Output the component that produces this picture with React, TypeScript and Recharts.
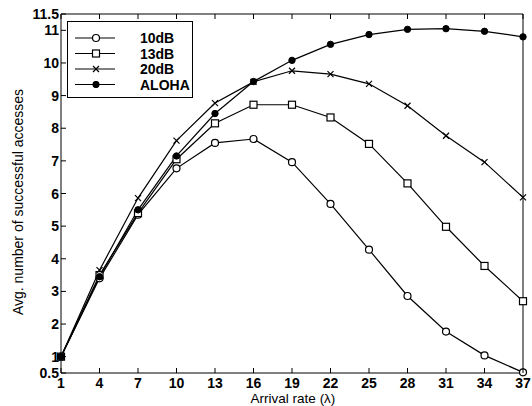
import React from 'react';
import { LineChart, Line, XAxis, YAxis } from 'recharts';

const arrivalRates = [1, 4, 7, 10, 13, 16, 19, 22, 25, 28, 31, 34, 37];
const yTicks = [0.5, 1, 2, 3, 4, 5, 6, 7, 8, 9, 10, 11, 11.5];

const snr10dB = [1.0, 3.4, 5.35, 6.77, 7.55, 7.67, 6.96, 5.68, 4.28, 2.86, 1.77, 1.04, 0.52];
const snr13dB = [1.0, 3.5, 5.4, 7.05, 8.15, 8.72, 8.72, 8.33, 7.52, 6.31, 4.98, 3.78, 2.7];
const snr20dB = [1.0, 3.65, 5.86, 7.62, 8.77, 9.42, 9.76, 9.66, 9.36, 8.69, 7.77, 6.96, 5.88];
const aloha = [1.0, 3.45, 5.5, 7.15, 8.45, 9.43, 10.08, 10.57, 10.87, 11.03, 11.05, 10.97, 10.8];

const data = arrivalRates.map((rate, i) => ({
  rate,
  snr10dB: snr10dB[i],
  snr13dB: snr13dB[i],
  snr20dB: snr20dB[i],
  aloha: aloha[i],
}));

const FONT = '"Liberation Sans", Arial, Helvetica, sans-serif';

// marker shapes
const OpenCircle = ({ cx, cy }: any) => (
  <circle cx={cx} cy={cy} r={3.5} fill="#fff" stroke="#000" strokeWidth={1.2} />
);
const OpenSquare = ({ cx, cy }: any) => (
  <rect x={cx - 3.5} y={cy - 3.5} width={7} height={7} fill="#fff" stroke="#000" strokeWidth={1.2} />
);
const Cross = ({ cx, cy }: any) => (
  <path d={`M${cx - 3},${cy - 3}L${cx + 3},${cy + 3}M${cx - 3},${cy + 3}L${cx + 3},${cy - 3}`} stroke="#000" strokeWidth={1.2} />
);
const Dot = ({ cx, cy }: any) => <circle cx={cx} cy={cy} r={3.2} fill="#000" stroke="#000" />;

const series = [
  { key: 'snr10dB', name: '10dB', Marker: OpenCircle },
  { key: 'snr13dB', name: '13dB', Marker: OpenSquare },
  { key: 'snr20dB', name: '20dB', Marker: Cross },
  { key: 'aloha', name: 'ALOHA', Marker: Dot },
];

const BottomTick = ({ x, y, payload }: any) => (
  <g>
    <line x1={x} y1={y} x2={x} y2={y - 5} stroke="#000" />
    <text x={x} y={y + 15} textAnchor="middle" fontFamily={FONT} fontSize={14} fontWeight="bold" fill="#000">
      {payload.value}
    </text>
  </g>
);
const TopTick = ({ x, y }: any) => <line x1={x} y1={y} x2={x} y2={y + 5} stroke="#000" />;
const LeftTick = ({ x, y, payload }: any) => (
  <g>
    <line x1={x} y1={y} x2={x + 5} y2={y} stroke="#000" />
    <text x={x - 2} y={y + 5} textAnchor="end" fontFamily={FONT} fontSize={14} fontWeight="bold" fill="#000">
      {payload.value}
    </text>
  </g>
);
const RightTick = ({ x, y }: any) => <line x1={x} y1={y} x2={x - 5} y2={y} stroke="#000" />;

const YTitle = () => (
  <text
    x={18}
    y={202}
    transform="rotate(-90 18 202)"
    textAnchor="middle"
    dominantBaseline="central"
    fontFamily={FONT}
    fontSize={14}
    fill="#000"
  >
    Avg. number of successful accesses
  </text>
);

const XTitle = () => (
  <text x={293} y={403} textAnchor="middle" fontFamily={FONT} fontSize={13.5} fill="#000">
    Arrival rate (λ)
  </text>
);

const LegendBox = () => (
  <div
    style={{
      position: 'absolute',
      left: 67,
      top: 21,
      width: 126,
      height: 77,
      border: '1px solid #000',
      background: '#fff',
      boxSizing: 'border-box',
    }}
  >
    <svg width={124} height={75} style={{ display: 'block' }}>
      {series.map((s, i) => {
        const ry = 16 + i * 15.5;
        return (
          <g key={s.key}>
            <line x1={7} y1={ry} x2={47} y2={ry} stroke="#000" strokeWidth={1.2} />
            <s.Marker cx={28} cy={ry} />
            <text x={72} y={ry + 5} fontFamily={FONT} fontSize={14} fontWeight="bold" fill="#000">
              {s.name}
            </text>
          </g>
        );
      })}
    </svg>
  </div>
);

const App = () => {
  return (
    <div style={{ position: 'absolute', left: 0, top: 0, width: 532, height: 406, background: '#fff' }}>
      <LineChart width={532} height={406} data={data} margin={{ top: 13, right: 8, bottom: 0, left: 0 }}>
        <XAxis
          dataKey="rate"
          type="number"
          domain={[1, 37]}
          ticks={arrivalRates}
          interval={0}
          height={33}
          tickSize={0}
          tickMargin={0}
          tickLine={false}
          axisLine={{ stroke: '#000' }}
          tick={<BottomTick />}
          label={<XTitle />}
        />
        <XAxis
          xAxisId="top"
          dataKey="rate"
          type="number"
          orientation="top"
          domain={[1, 37]}
          ticks={arrivalRates}
          interval={0}
          height={1}
          tickSize={0}
          tickMargin={0}
          tickLine={false}
          axisLine={{ stroke: '#000' }}
          tick={<TopTick />}
        />
        <YAxis
          type="number"
          domain={[0.5, 11.5]}
          ticks={yTicks}
          interval={0}
          width={61}
          tickSize={0}
          tickMargin={0}
          tickLine={false}
          axisLine={{ stroke: '#000' }}
          tick={<LeftTick />}
          label={<YTitle />}
        />
        <YAxis
          yAxisId="right"
          type="number"
          orientation="right"
          domain={[0.5, 11.5]}
          ticks={yTicks}
          interval={0}
          width={1}
          tickSize={0}
          tickMargin={0}
          tickLine={false}
          axisLine={{ stroke: '#000' }}
          tick={<RightTick />}
        />
        {series.map((s) => (
          <Line
            key={s.key}
            dataKey={s.key}
            name={s.name}
            type="linear"
            stroke="#000"
            strokeWidth={1.2}
            dot={<s.Marker />}
            activeDot={false}
            isAnimationActive={false}
          />
        ))}
      </LineChart>
      <LegendBox />
    </div>
  );
};

export default App;
